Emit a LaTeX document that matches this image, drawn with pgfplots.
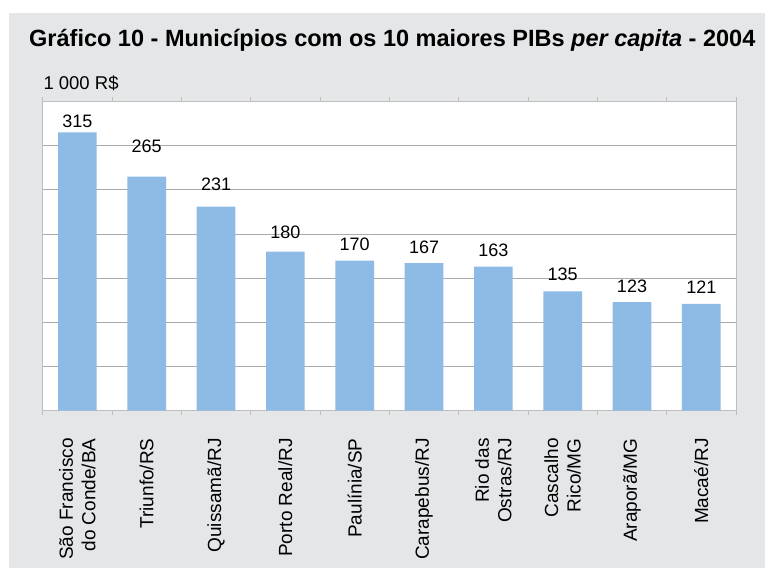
\documentclass[border=0pt]{standalone}
\usepackage{fontspec}
\setmainfont{Liberation Sans}
\usepackage{pgfplots}
\pgfplotsset{compat=1.18}
\usepackage{pgfplotstable}
\definecolor{bggray}{RGB}{229,230,232}
\definecolor{barblue}{RGB}{141,187,229}
\definecolor{gridgray}{RGB}{170,170,170}
\definecolor{axisgray}{RGB}{190,190,190}

\pgfplotstableread{
x y off
0 315 4.7
1 265 23.7
2 231 16
3 180 12.7
4 170 9.7
5 167 9.7
6 163 10.3
7 135 10.3
8 123 9.3
9 121 9.7
}\pibdata

\begin{document}
\begin{tikzpicture}
\fill[white] (0pt,0pt) rectangle (765pt,568pt);
\useasboundingbox (0pt,0pt) rectangle (765pt,568pt);
\fill[bggray] (9pt,0pt) rectangle (765pt,555pt);
\node[anchor=base west, inner sep=0pt, font=\fontsize{23.5}{28}\selectfont\bfseries] at (29pt,521.3pt) {Gráfico 10 - Municípios com os 10 maiores PIBs \textit{per capita} - 2004};
\node[anchor=base west, inner sep=0pt, font=\fontsize{18.5}{22}\selectfont] at (43.3pt,478pt) {1 000 R\$};
\begin{axis}[
  at={(42.7pt,157.3pt)}, anchor=south west,
  scale only axis, width=693.3pt, height=309.2pt,
  xmin=-0.5, xmax=9.5, ymin=0, ymax=350,
  axis background/.style={fill=white},
  axis line style={draw=axisgray, line width=1pt},
  ymajorgrids, grid style={draw=gridgray, line width=0.9pt},
  ytick={0,50,...,350}, yticklabels={},
  xtick={0,...,9},
  xticklabels={{São Francisco\\do Conde/BA},Triunfo/RS,Quissamã/RJ,Porto Real/RJ,Paulínia/SP,Carapebus/RJ,{Rio das\\Ostras/RJ},{Cascalho\\Rico/MG},Araporã/MG,Macaé/RJ},
  minor xtick={-0.5,0.5,...,9.5},
  major tick length=0pt, minor tick length=4pt,
  tick align=outside,
  every minor tick/.style={draw=axisgray, line width=1pt},
  xticklabel style={rotate=90, anchor=east, align=right, inner sep=0pt, font=\fontsize{19}{22.5}\selectfont},
  xticklabel shift=27.5pt,
  /pgf/number format/assume math mode=true,
  ybar, bar width=38.7pt,
]
\addplot[fill=barblue, draw=none,
  nodes near coords,
  visualization depends on={\thisrow{off}\as\myoff},
  every node near coord/.append style={font=\fontsize{18}{22}\selectfont, inner sep=0pt, anchor=south, yshift=\myoff*1pt, black},
] table[x=x, y=y] {\pibdata};
\end{axis}
\end{tikzpicture}
\end{document}
